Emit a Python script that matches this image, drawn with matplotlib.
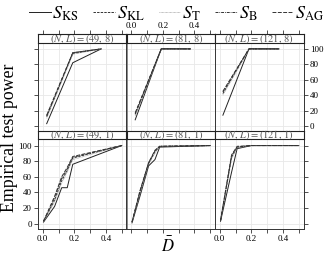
import matplotlib
matplotlib.use("Agg")
import matplotlib.pyplot as plt
from matplotlib.lines import Line2D
import numpy as np

plt.rcParams['mathtext.fontset'] = 'stix'
plt.rcParams['font.family'] = ['Liberation Serif', 'DejaVu Serif']

# ---------------- data ----------------
series = ["KS", "KL", "T", "B", "AG"]
panel_titles = [["(49,\\,8)", "(81,\\,8)", "(121,\\,8)"],
                ["(49,\\,1)", "(81,\\,1)", "(121,\\,1)"]]

# top row (L = 8)
x_49_8 = [0.025, 0.19, 0.37]
p_49_8 = {"KS": [3, 82, 100], "KL": [12, 94, 100], "T": [10, 93, 100],
          "B": [13, 95, 100], "AG": [14, 95, 100]}
x_81_8 = [0.025, 0.19, 0.375]
p_81_8 = {"KS": [8, 100, 100], "KL": [15, 100, 100], "T": [13, 99, 100],
          "B": [16, 100, 100], "AG": [17, 100, 100]}
x_121_8 = [0.02, 0.185, 0.375]
p_121_8 = {"KS": [14, 100, 100], "KL": [42, 100, 100], "T": [40, 99, 100],
           "B": [44, 100, 100], "AG": [45, 100, 100]}
# bottom row (L = 1)
x_49_1 = [0.005, 0.075, 0.12, 0.155, 0.19, 0.5]
p_49_1 = {"KS": [2, 22, 46, 46, 76, 100], "KL": [3, 30, 55, 68, 84, 100],
          "T": [2, 28, 52, 66, 82, 100], "B": [3, 33, 58, 70, 85, 100],
          "AG": [3, 35, 60, 72, 86, 100]}
x_81_1 = [0.005, 0.055, 0.11, 0.15, 0.18, 0.5]
p_81_1 = {"KS": [1, 35, 74, 82, 98, 100], "KL": [2, 40, 77, 92, 99, 100],
          "T": [1, 38, 76, 90, 99, 100], "B": [2, 41, 78, 93, 99, 100],
          "AG": [2, 42, 78, 94, 99, 100]}
x_121_1 = [0.005, 0.075, 0.11, 0.2, 0.5]
p_121_1 = {"KS": [3, 66, 96, 100, 100], "KL": [4, 85, 98, 100, 100],
           "T": [4, 83, 97, 100, 100], "B": [4, 87, 98, 100, 100],
           "AG": [4, 88, 99, 100, 100]}

panel_x = [[x_49_8, x_81_8, x_121_8], [x_49_1, x_81_1, x_121_1]]
panel_y = [[p_49_8, p_81_8, p_121_8], [p_49_1, p_81_1, p_121_1]]

x_ticks = [0.0, 0.2, 0.4]
x_minor = [0.1, 0.3, 0.5]
y_ticks = [0, 20, 40, 60, 80, 100]

styles = {
    "KS": dict(color="#222222", ls="-", lw=0.7),
    "KL": dict(color="#333333", ls=(0, (2.5, 1.2)), lw=0.7),
    "T":  dict(color="#999999", ls=(0, (0.8, 0.8)), lw=0.6),
    "B":  dict(color="#333333", ls=(0, (3, 1, 0.8, 1)), lw=0.7),
    "AG": dict(color="#333333", ls=(0, (4, 1.5)), lw=0.7),
}

# ---------------- layout ----------------
W, H = 324, 257
fig = plt.figure(figsize=(W / 100, H / 100), dpi=100)

def rect(l, t, r, b):
    return [l / W, 1 - b / H, (r - l) / W, (b - t) / H]

cols = [(38, 126.5), (126.5, 215), (215, 303.5)]
rows_panel = [(42.7, 131), (139.3, 228.7)]
rows_strip = [(34, 42.7), (131, 139.3)]
xlim = (-0.03, 0.53)
ylim = (-6.5, 108)
tick_fs = 6.5

for r in range(2):
    for c in range(3):
        l, rr = cols[c]
        t, b = rows_panel[r]
        ax = fig.add_axes(rect(l, t, rr, b))
        xs = panel_x[r][c]
        for s in series:
            ax.plot(xs, panel_y[r][c][s], **styles[s], zorder=3)
        ax.set_xlim(*xlim)
        ax.set_ylim(*ylim)
        ax.set_xticks([0, 0.1, 0.2, 0.3, 0.4, 0.5])
        ax.set_yticks(y_ticks)
        ax.grid(True, color="#e8e8e8", lw=0.6, zorder=0)
        ax.set_axisbelow(True)
        for sp in ax.spines.values():
            sp.set_linewidth(0.7)
            sp.set_color("#333333")
        if c == 1:
            ax.spines["left"].set_color("#888888")
        ax.tick_params(axis="both", which="both", length=0, labelbottom=False,
                       labelleft=False, labeltop=False, labelright=False)
        if r == 1:
            sx = ax.secondary_xaxis("bottom")
            sx.set_xticks(x_ticks + x_minor)
            labs = ["0.0", "0.2", "0.4", "", "", ""] if c != 1 else [""] * 6
            sx.set_xticklabels(labs)
            sx.tick_params(length=3, width=0.6, labelsize=tick_fs, pad=1.5,
                           color="#333333")
            sx.spines["bottom"].set_visible(False)
        if c == 0:
            sy = ax.secondary_yaxis("left")
            sy.set_yticks(y_ticks)
            sy.set_yticklabels([str(v) for v in y_ticks] if r == 1 else [""] * 6)
            sy.tick_params(length=3, width=0.6, labelsize=tick_fs, pad=1.5,
                           color="#333333")
            sy.spines["left"].set_visible(False)
        if c == 2:
            sy = ax.secondary_yaxis("right")
            sy.set_yticks(y_ticks)
            sy.set_yticklabels([str(v) for v in y_ticks] if r == 0 else [""] * 6)
            sy.tick_params(length=3, width=0.6, labelsize=tick_fs, pad=1.5,
                           color="#333333")
            sy.spines["right"].set_visible(False)

        # strip
        st, sb = rows_strip[r]
        sax = fig.add_axes(rect(l, st, rr, sb))
        sax.set_xlim(*xlim)
        sax.set_ylim(0, 1)
        sax.set_yticks([])
        sax.set_xticks([])
        for sp in sax.spines.values():
            sp.set_linewidth(0.8)
            sp.set_color("#222222")
        sax.text(0.5, 0.45, r"$(N,\,L)=" + panel_titles[r][c] + "$",
                 transform=sax.transAxes, ha="center", va="center",
                 fontsize=7.5, color="#555555")
        if r == 0:
            tx = sax.secondary_xaxis("top")
            tx.set_xticks(x_ticks + x_minor)
            labs = ["0.0", "0.2", "0.4", "", "", ""] if c == 1 else [""] * 6
            tx.set_xticklabels(labs)
            tx.tick_params(length=3, width=0.6, labelsize=tick_fs, pad=0,
                           color="#333333")
            tx.spines["top"].set_visible(False)

# legend
handles = [Line2D([], [], **styles[s]) for s in series]
labels = [r"$S_{\mathrm{" + s + "}}$" for s in series]
fig.legend(handles, labels, loc="center left", bbox_to_anchor=(29 / W, 1 - 14 / H),
           ncol=5, frameon=False, fontsize=13, handlelength=1.2,
           handletextpad=0.1, columnspacing=0.8, borderaxespad=0, borderpad=0)

fig.text(10 / W, 1 - 138 / H, "Empirical test power", rotation=90,
         ha="center", va="center", fontsize=12.8)
fig.text(168 / W, 1 - 246 / H, r"$\bar{D}$", ha="center", va="center",
         fontsize=12)

fig.savefig("out.png", dpi=100)
